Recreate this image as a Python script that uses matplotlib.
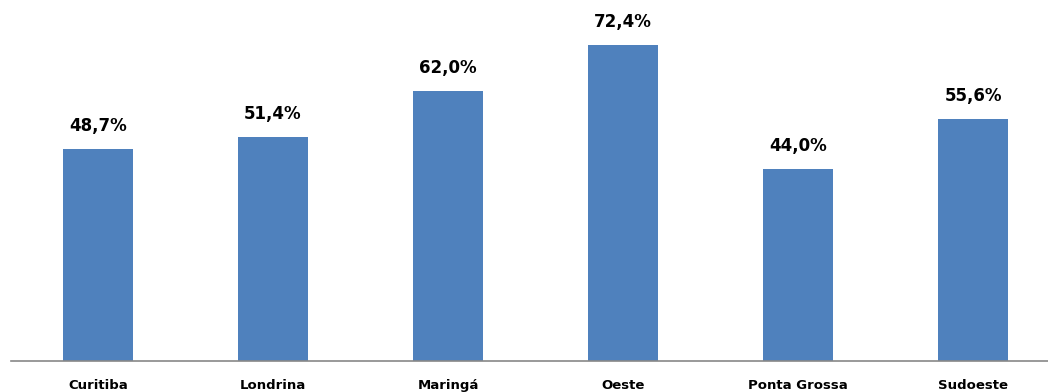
import matplotlib
matplotlib.use('Agg')
import matplotlib.pyplot as plt

regioes = ['Curitiba', 'Londrina', 'Maringá', 'Oeste', 'Ponta Grossa', 'Sudoeste']
valores = [48.7, 51.4, 62.0, 72.4, 44.0, 55.6]

plt.rcParams['font.family'] = ['DejaVu Sans']

fig = plt.figure(figsize=(10.48, 3.92), dpi=100)
# eixo ocupa da borda esquerda (x=10px) ate o topo, linha base em y=361px
ax = fig.add_axes([10.5 / 1048, 31 / 392, (1048 - 10.5) / 1048, 361 / 392])

pos = list(range(len(regioes)))
barras = ax.bar(pos, valores, width=0.4, color='#4F81BD', zorder=2)

for b, v in zip(barras, valores):
    txt = f'{v:.1f}%'.replace('.', ',')
    ax.annotate(txt, (b.get_x() + b.get_width() / 2, v), xytext=(0, 10),
                textcoords='offset points', ha='center', va='bottom',
                fontsize=12, fontweight='bold', color='#000000')

ax.set_xlim(-0.5, 5.5 - 12.5 / 175)
ax.set_ylim(0, 82.8)
ax.set_xticks(pos)
ax.set_xticklabels(regioes, fontsize=9.5, fontweight='bold')
ax.tick_params(axis='x', length=0, pad=13)
ax.set_yticks([])
for lado in ['top', 'right', 'left']:
    ax.spines[lado].set_visible(False)
ax.spines['bottom'].set_color('#888888')
ax.spines['bottom'].set_linewidth(1.2)

plt.savefig('out.png', dpi=100)
